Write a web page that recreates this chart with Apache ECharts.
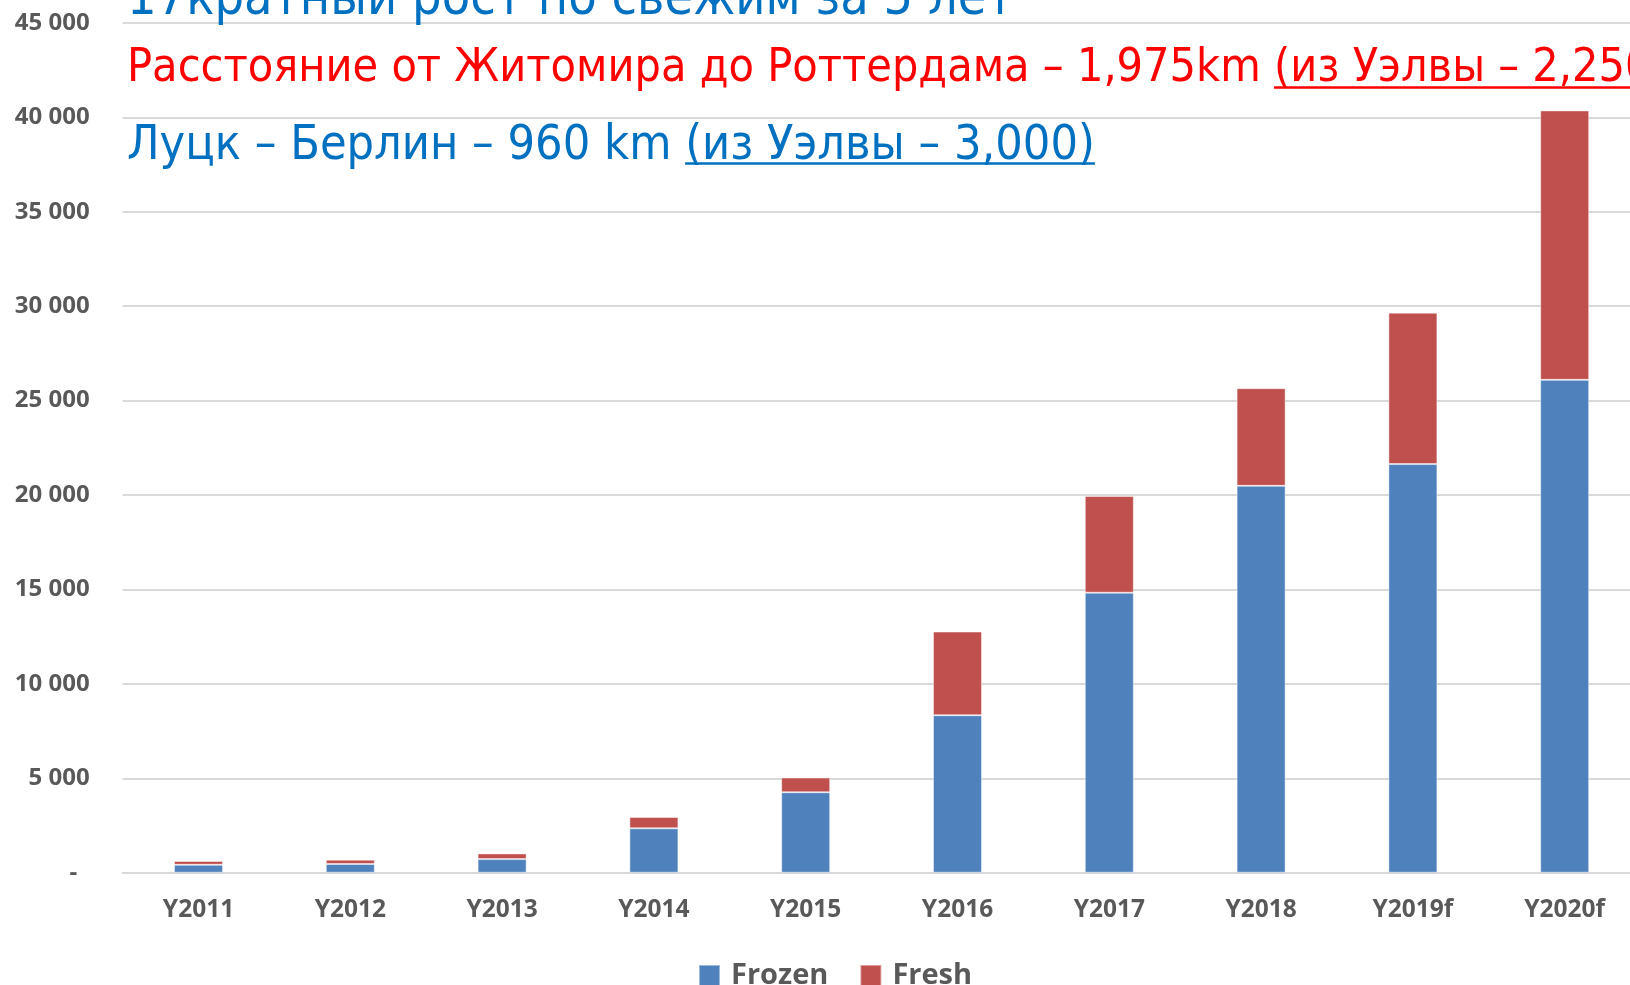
<!DOCTYPE html>
<html><head><meta charset="utf-8">
<script src="https://cdn.jsdelivr.net/npm/echarts@6/dist/echarts.min.js"></script>
<style>html,body{margin:0;padding:0;background:#fff;overflow:hidden}#c{width:1630px;height:985px}</style>
</head><body><div id="c"></div>
<script>
const categories = ['Y2011','Y2012','Y2013','Y2014','Y2015','Y2016','Y2017','Y2018','Y2019f','Y2020f'];
const frozen = [420, 460, 720, 2350, 4260, 8340, 14830, 20490, 21640, 26100];
const fresh  = [200, 230, 300, 600, 780, 4430, 5120, 5170, 8020, 14270];
const seriesNames = ['Frozen', 'Fresh'];
const yMin = 0, yMax = 45000, yStep = 5000;
const titleLines = [
  [{ text: '17кратный рост по свежим за 5 лет', u: false }],
  [{ text: 'Расстояние от Житомира до Роттердама – 1,975km ', u: false }, { text: '(из Уэлвы – 2,250)', u: true }],
  [{ text: 'Луцк – Берлин – 960 km ', u: false }, { text: '(из Уэлвы – 3,000)', u: true }]
];
const titleColors = ['#0070C0', '#FF0000', '#0070C0'];

const TFONT = '"DejaVu Sans Condensed", "Liberation Sans Narrow", "DejaVu Sans", sans-serif';
const lineSizes = [51.8, 46.3, 48.2];
const lineTops = [-25, 46.4, 122];
const underlineY = [0, 86.3, 162.3];
const TX = 127;

const cv = document.createElement('canvas').getContext('2d');
const graphics = [];
titleLines.forEach((parts, i) => {
  let x = TX;
  cv.font = lineSizes[i] + 'px ' + TFONT;
  parts.forEach(p => {
    const w = cv.measureText(p.text).width;
    graphics.push({ type: 'text', x: x, y: lineTops[i], z: 100,
      style: { text: p.text, fill: titleColors[i], fontSize: lineSizes[i], fontFamily: TFONT, textVerticalAlign: 'top' } });
    if (p.u) {
      graphics.push({ type: 'rect', z: 100, shape: { x: x, y: underlineY[i], width: w, height: 2.5 },
        style: { fill: titleColors[i] } });
    }
    x += w;
  });
});

const fmt = v => v === 0 ? '-  ' : String(v).replace(/\B(?=(\d{3})+(?!\d))/g, ' ');
const CFONT = '"Open Sans", "DejaVu Sans", sans-serif';

const chart = echarts.init(document.getElementById('c'), null, { renderer: 'canvas' });
chart.setOption({
  animation: false,
  backgroundColor: '#fff',
  grid: { left: 122.6, width: 1518, top: 23, bottom: 112.3, containLabel: false, outerBoundsMode: 'none' },
  legend: {
    data: seriesNames, left: 698, top: 961, padding: 0, icon: 'rect', itemWidth: 21, itemHeight: 21, itemGap: 31,
    textStyle: { color: '#595959', fontWeight: 'bold', fontSize: 29, fontFamily: CFONT, padding: [0, 0, 0, 6] }
  },
  xAxis: {
    type: 'category', data: categories,
    axisLine: { show: true, lineStyle: { color: '#D9D9D9', width: 2 } },
    axisTick: { show: false },
    axisLabel: { color: '#595959', fontWeight: 'bold', fontSize: 24.5, margin: 25, fontFamily: CFONT }
  },
  yAxis: {
    type: 'value', min: yMin, max: yMax, interval: yStep,
    axisLine: { show: false }, axisTick: { show: false },
    splitLine: { lineStyle: { color: '#D9D9D9', width: 2 } },
    axisLabel: { color: '#595959', fontWeight: 'bold', fontSize: 24, margin: 33, fontFamily: CFONT, formatter: fmt }
  },
  series: [
    { name: seriesNames[0], type: 'bar', stack: 'total', data: frozen, barWidth: 49,
      itemStyle: { color: '#4F81BD', borderColor: 'rgba(255,255,255,0.45)', borderWidth: 1 } },
    { name: seriesNames[1], type: 'bar', stack: 'total', data: fresh, barWidth: 49,
      itemStyle: { color: '#C0504D', borderColor: 'rgba(255,255,255,0.45)', borderWidth: 1 } }
  ],
  graphic: graphics
});
</script></body></html>
